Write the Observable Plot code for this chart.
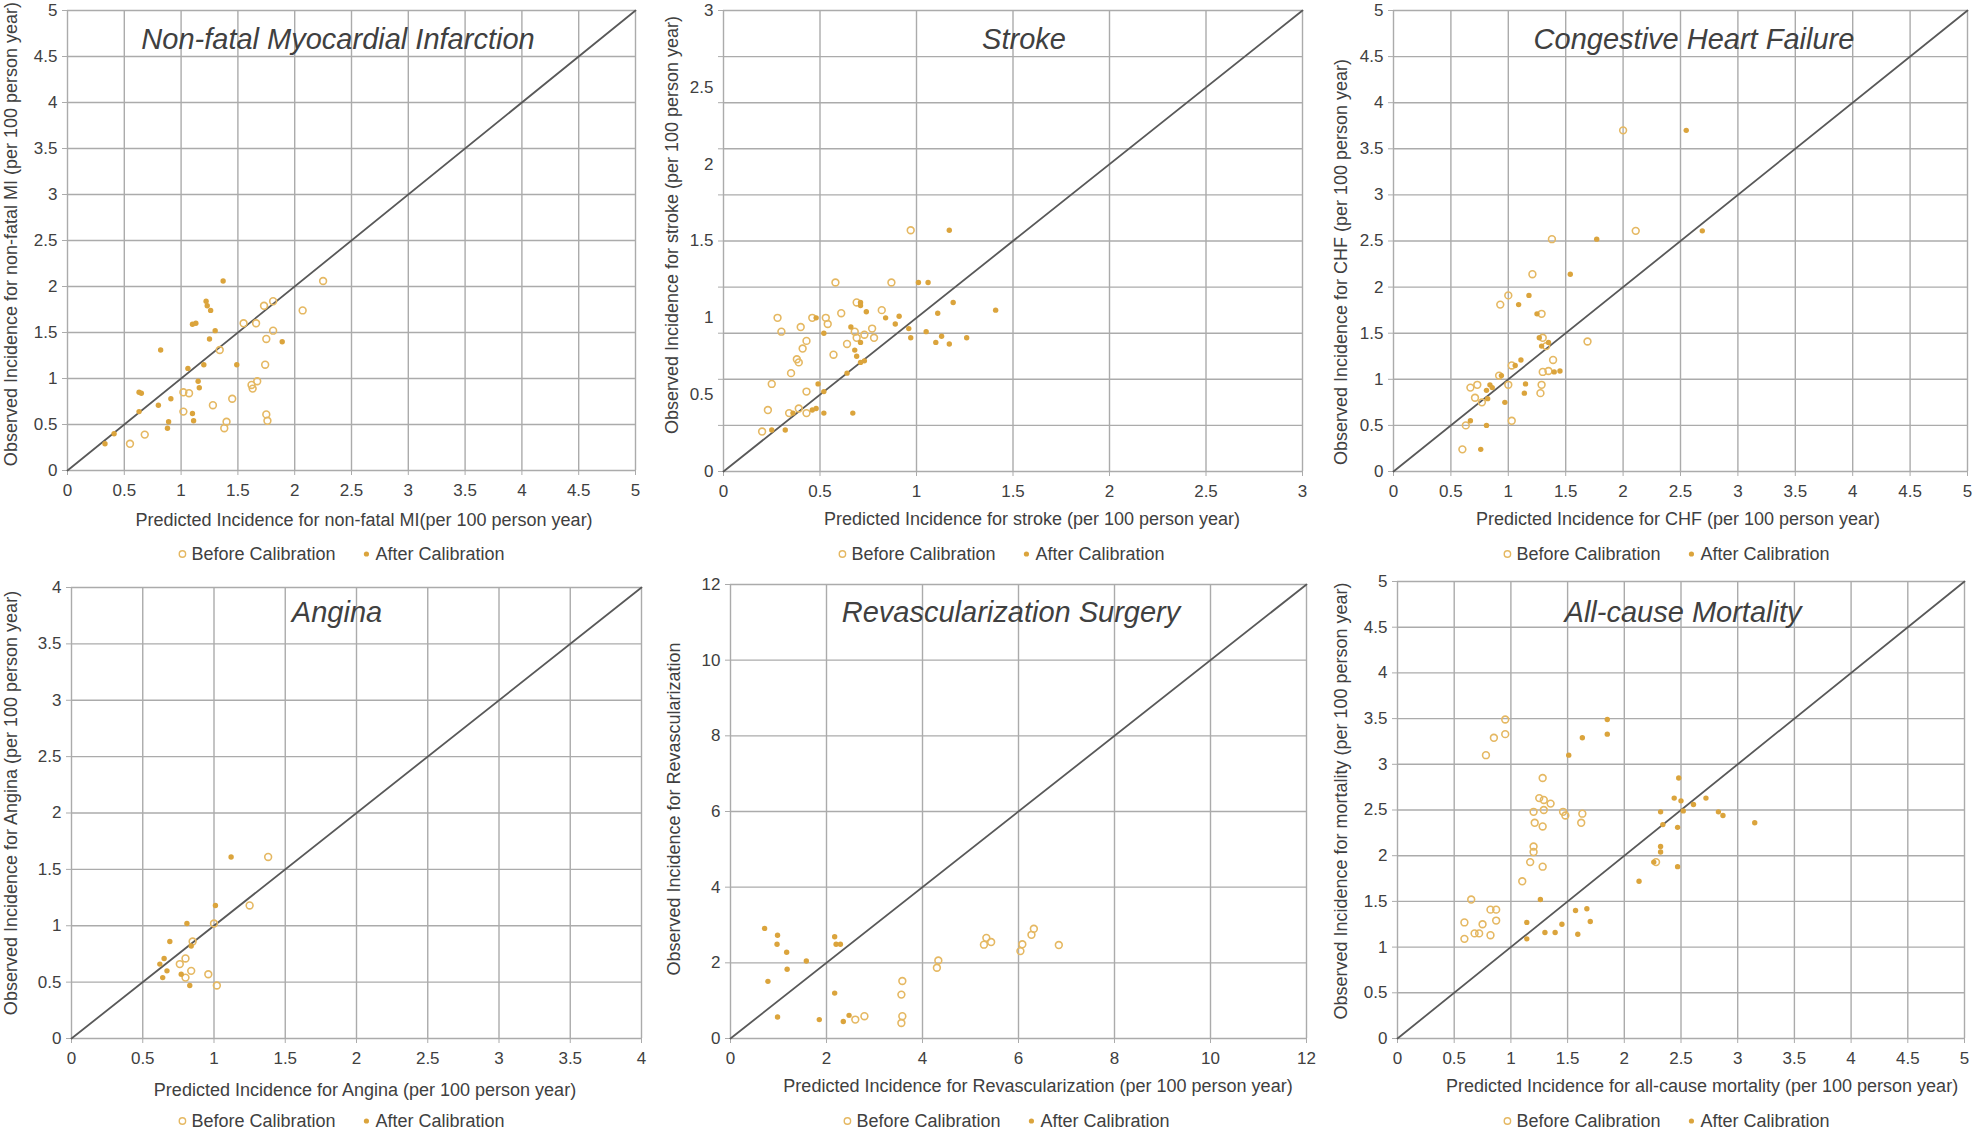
<!DOCTYPE html>
<html><head><meta charset="utf-8">
<script src="https://cdn.jsdelivr.net/npm/d3@7"></script>
<script src="https://cdn.jsdelivr.net/npm/@observablehq/plot@0.6"></script>
<style>
body{margin:0;background:#fff;}
#root{position:relative;width:1974px;height:1131px;overflow:hidden;font-family:"Liberation Sans",Arial,sans-serif;color:#404040;background:#fff;}
.abs{position:absolute;white-space:nowrap;line-height:1;}
.title{font-style:italic;font-size:29px;transform:translate(-50%,-50%);}
.xlab{font-size:18px;transform:translate(-50%,-50%);}
.ylab{font-size:18px;transform:translate(-50%,-50%) rotate(-90deg);}
.legend{font-size:18px;transform:translate(-50%,-50%);display:flex;align-items:center;}
.legend svg{margin-right:4px;}
.panel{position:absolute;}
</style></head><body><div id="root"></div>
<script>
// ---------- data (predicted, observed) ----------
const miBefore = [[2.25,2.06],[1.81,1.84],[1.73,1.79],[2.07,1.74],[1.55,1.60],[1.66,1.60],[1.81,1.52],[1.75,1.43],[1.34,1.31],[1.74,1.15],[1.67,0.97],[1.62,0.93],[1.63,0.89],[1.02,0.85],[1.07,0.84],[1.45,0.78],[1.28,0.71],[1.02,0.64],[1.75,0.61],[1.76,0.54],[1.40,0.53],[1.38,0.46],[0.68,0.39],[0.55,0.29]];
const miAfter = [[1.37,2.06],[1.22,1.84],[1.23,1.79],[1.26,1.74],[1.10,1.59],[1.13,1.60],[1.30,1.52],[1.25,1.43],[1.89,1.40],[0.82,1.31],[1.06,1.11],[1.20,1.15],[1.49,1.15],[1.15,0.97],[1.16,0.90],[0.63,0.85],[0.65,0.84],[0.91,0.78],[0.80,0.71],[0.63,0.64],[1.10,0.62],[1.11,0.54],[0.89,0.53],[0.88,0.46],[0.41,0.40],[0.33,0.29]];
const strokeBefore = [[0.97,1.57],[0.58,1.23],[0.87,1.23],[0.69,1.10],[0.82,1.05],[0.61,1.03],[0.28,1.00],[0.46,1.00],[0.53,1.00],[0.54,0.96],[0.40,0.94],[0.30,0.91],[0.68,0.91],[0.77,0.93],[0.73,0.89],[0.69,0.87],[0.78,0.87],[0.43,0.85],[0.64,0.83],[0.41,0.80],[0.57,0.76],[0.38,0.73],[0.39,0.71],[0.35,0.64],[0.25,0.57],[0.43,0.52],[0.23,0.40],[0.39,0.41],[0.34,0.38],[0.43,0.38],[0.20,0.26]];
const strokeAfter = [[1.17,1.57],[1.01,1.23],[1.06,1.23],[0.71,1.10],[0.71,1.08],[0.74,1.04],[1.19,1.10],[1.41,1.05],[1.11,1.03],[0.48,1.00],[0.84,1.00],[0.91,1.01],[0.89,0.96],[0.66,0.94],[0.96,0.93],[0.52,0.90],[1.05,0.91],[0.97,0.87],[1.13,0.88],[1.26,0.87],[0.71,0.84],[1.10,0.84],[1.17,0.83],[0.68,0.79],[0.69,0.75],[0.73,0.72],[0.71,0.71],[0.64,0.64],[0.49,0.57],[0.52,0.52],[0.36,0.38],[0.46,0.40],[0.48,0.41],[0.52,0.38],[0.67,0.38],[0.25,0.27],[0.32,0.27]];
const chfBefore = [[2.00,3.70],[2.11,2.61],[1.38,2.52],[1.21,2.14],[1.00,1.91],[0.93,1.81],[1.29,1.71],[1.69,1.41],[1.30,1.45],[1.33,1.36],[1.39,1.21],[1.03,1.15],[0.92,1.04],[1.30,1.08],[1.35,1.09],[1.00,0.94],[1.29,0.94],[0.73,0.94],[0.67,0.91],[0.71,0.80],[0.77,0.75],[1.28,0.85],[0.63,0.50],[1.03,0.55],[0.60,0.24]];
const chfAfter = [[2.55,3.70],[2.69,2.61],[1.77,2.52],[1.54,2.14],[1.18,1.91],[1.09,1.81],[1.25,1.71],[1.27,1.45],[1.35,1.40],[1.29,1.36],[1.11,1.21],[1.06,1.15],[0.94,1.04],[1.40,1.08],[1.45,1.09],[0.84,0.94],[0.86,0.91],[1.15,0.95],[0.81,0.88],[0.82,0.79],[1.14,0.85],[0.97,0.75],[0.67,0.55],[0.81,0.50],[0.76,0.24]];
const anginaBefore = [[1.38,1.61],[1.25,1.18],[1.00,1.02],[0.85,0.86],[0.80,0.71],[0.76,0.66],[0.84,0.60],[0.96,0.57],[0.80,0.54],[1.02,0.47]];
const anginaAfter = [[1.12,1.61],[1.01,1.18],[0.81,1.02],[0.84,0.82],[0.69,0.86],[0.65,0.71],[0.62,0.66],[0.67,0.60],[0.77,0.57],[0.64,0.54],[0.83,0.47]];
const revBefore = [[2.60,0.50],[2.79,0.59],[3.58,1.52],[3.56,1.16],[3.58,0.59],[3.56,0.41],[4.33,2.06],[4.30,1.87],[5.33,2.66],[5.28,2.48],[5.43,2.55],[6.08,2.49],[6.04,2.31],[6.32,2.90],[6.27,2.74],[6.84,2.47]];
const revAfter = [[0.71,2.91],[0.98,2.73],[0.97,2.49],[1.17,2.28],[1.58,2.05],[1.18,1.83],[0.78,1.51],[2.17,2.69],[2.20,2.49],[2.29,2.49],[2.17,1.20],[0.98,0.57],[1.85,0.50],[2.47,0.61],[2.35,0.45]];
const mortBefore = [[0.95,3.49],[0.85,3.29],[0.95,3.33],[0.78,3.10],[1.28,2.85],[1.25,2.63],[1.29,2.61],[1.35,2.57],[1.20,2.48],[1.29,2.50],[1.46,2.48],[1.48,2.44],[1.63,2.46],[1.62,2.36],[1.21,2.36],[1.28,2.32],[1.20,2.10],[1.20,2.04],[1.17,1.93],[1.28,1.88],[1.10,1.72],[2.28,1.93],[0.65,1.52],[0.82,1.41],[0.87,1.41],[0.87,1.29],[0.59,1.27],[0.75,1.25],[0.68,1.15],[0.72,1.15],[0.82,1.13],[0.59,1.09]];
const mortAfter = [[1.85,3.49],[1.85,3.33],[1.63,3.29],[1.51,3.10],[2.48,2.85],[2.44,2.63],[2.72,2.63],[2.50,2.60],[2.61,2.56],[2.52,2.49],[2.32,2.48],[2.83,2.48],[2.87,2.44],[3.15,2.36],[2.34,2.34],[2.47,2.31],[2.32,2.10],[2.32,2.04],[2.26,1.93],[2.47,1.88],[2.13,1.72],[1.26,1.52],[1.67,1.42],[1.57,1.40],[1.70,1.28],[1.14,1.27],[1.45,1.25],[1.30,1.16],[1.39,1.16],[1.59,1.14],[1.14,1.09]];

// ---------- tick labels ----------
const ticks5 = [0,0.5,1,1.5,2,2.5,3,3.5,4,4.5,5];
const ticks3 = [0,0.5,1,1.5,2,2.5,3];
const strokeGridY = [0,0.3,0.6,0.9,1.2,1.5,1.8,2.1,2.4,2.7,3];
const ticks4 = [0,0.5,1,1.5,2,2.5,3,3.5,4];
const ticks12 = [0,2,4,6,8,10,12];

const legendLabels = ["Before Calibration","After Calibration"];
const colBefore = "#E5B862", colAfter = "#DBA43C";
const gridCol = "#ABABAB", textCol = "#404040", diagCol = "#595959";

const panels = [
  {title:"Non-fatal Myocardial Infarction", before:miBefore, after:miAfter, max:5, xTicks:ticks5, yTicks:ticks5, yGrid:ticks5,
   xLabel:"Predicted Incidence for non-fatal MI(per 100 person year)", yLabel:"Observed Incidence for non-fatal MI (per 100 person year)",
   frame:[67,635,10,470], titlePos:[338,39], xLabelPos:[364,520], yLabelPos:[11,234], legendPos:[341,554]},
  {title:"Stroke", before:strokeBefore, after:strokeAfter, max:3, xTicks:ticks3, yTicks:ticks3, yGrid:strokeGridY,
   xLabel:"Predicted Incidence for stroke (per 100 person year)", yLabel:"Observed Incidence for stroke (per 100 person year)",
   frame:[723,1302,10,471], titlePos:[1024,39], xLabelPos:[1032,519], yLabelPos:[672,225], legendPos:[1001,554]},
  {title:"Congestive Heart Failure", before:chfBefore, after:chfAfter, max:5, xTicks:ticks5, yTicks:ticks5, yGrid:ticks5,
   xLabel:"Predicted Incidence for CHF (per 100 person year)", yLabel:"Observed Incidence for CHF (per 100 person year)",
   frame:[1393,1967,10,471], titlePos:[1694,39], xLabelPos:[1678,519], yLabelPos:[1341,262], legendPos:[1666,554]},
  {title:"Angina", before:anginaBefore, after:anginaAfter, max:4, xTicks:ticks4, yTicks:ticks4, yGrid:ticks4,
   xLabel:"Predicted Incidence for Angina (per 100 person year)", yLabel:"Observed Incidence for Angina (per 100 person year)",
   frame:[71,641,587,1038], titlePos:[337,612], xLabelPos:[365,1090], yLabelPos:[11,803], legendPos:[341,1121]},
  {title:"Revascularization Surgery", before:revBefore, after:revAfter, max:12, xTicks:ticks12, yTicks:ticks12, yGrid:ticks12,
   xLabel:"Predicted Incidence for Revascularization (per 100 person year)", yLabel:"Observed Incidence for Revascularization",
   frame:[730,1306,584,1038], titlePos:[1011,612], xLabelPos:[1038,1086], yLabelPos:[674,809], legendPos:[1006,1121]},
  {title:"All-cause Mortality", before:mortBefore, after:mortAfter, max:5, xTicks:ticks5, yTicks:ticks5, yGrid:ticks5,
   xLabel:"Predicted Incidence for all-cause mortality (per 100 person year)", yLabel:"Observed Incidence for mortality (per 100 person year)",
   frame:[1397,1964,581,1038], titlePos:[1683,612], xLabelPos:[1702,1086], yLabelPos:[1341,801], legendPos:[1666,1121]}
];

const root = document.getElementById("root");
function addDiv(cls, text, pos) {
  const d = document.createElement("div");
  d.className = "abs " + cls;
  d.textContent = text;
  d.style.left = pos[0] + "px";
  d.style.top = pos[1] + "px";
  root.appendChild(d);
  return d;
}
function swatch(kind) {
  const ns = "http://www.w3.org/2000/svg";
  const s = document.createElementNS(ns, "svg");
  s.setAttribute("width", 10); s.setAttribute("height", 10);
  const c = document.createElementNS(ns, "circle");
  c.setAttribute("cx", 5); c.setAttribute("cy", 5);
  if (kind === 0) { c.setAttribute("r", 3.2); c.setAttribute("fill", "none"); c.setAttribute("stroke", colBefore); c.setAttribute("stroke-width", 1.4); }
  else { c.setAttribute("r", 2.6); c.setAttribute("fill", colAfter); }
  s.appendChild(c);
  return s;
}

const mL = 60, mR = 20, mT = 10, mB = 40;
for (const p of panels) {
  const [x0, x1, y0, y1] = p.frame;
  const diag = [0, p.max];
  const chart = Plot.plot({
    width: (x1 - x0) + mL + mR, height: (y1 - y0) + mT + mB,
    marginLeft: mL, marginRight: mR, marginTop: mT, marginBottom: mB,
    x: {domain: [0, p.max]}, y: {domain: [0, p.max]},
    style: {fontFamily: '"Liberation Sans", Arial, sans-serif', fontSize: "17px", color: textCol, background: "transparent", overflow: "visible"},
    marks: [
      Plot.gridX(p.xTicks, {stroke: gridCol, strokeOpacity: 1, strokeWidth: 1.4}),
      Plot.gridY(p.yGrid, {stroke: gridCol, strokeOpacity: 1, strokeWidth: 1.4}),
      Plot.axisX(p.xTicks, {tickSize: 5, tickPadding: 8, stroke: gridCol, fill: textCol, tickFormat: d => String(d), label: null}),
      Plot.axisY(p.yTicks, {tickSize: 0, tickPadding: 10, fill: textCol, tickFormat: d => String(d), label: null}),
      Plot.axisY(p.yGrid, {tickSize: 5, stroke: gridCol, fill: "none", label: null}),
      Plot.line(diag, {x: d => d, y: d => d, stroke: diagCol, strokeWidth: 1.8}),
      Plot.dot(p.before, {x: d => d[0], y: d => d[1], r: 3.4, stroke: colBefore, strokeWidth: 1.6, fill: "none"}),
      Plot.dot(p.after, {x: d => d[0], y: d => d[1], r: 2.7, fill: colAfter, stroke: "none"})
    ]
  });
  chart.classList.add("panel");
  chart.style.left = (x0 - mL) + "px";
  chart.style.top = (y0 - mT) + "px";
  root.appendChild(chart);

  addDiv("title", p.title, p.titlePos);
  addDiv("xlab", p.xLabel, p.xLabelPos);
  addDiv("ylab", p.yLabel, p.yLabelPos);
  const lg = document.createElement("div");
  lg.className = "abs legend";
  lg.style.left = p.legendPos[0] + "px";
  lg.style.top = p.legendPos[1] + "px";
  legendLabels.forEach((t, i) => {
    lg.appendChild(swatch(i));
    const sp = document.createElement("span");
    sp.textContent = t;
    sp.style.marginRight = i === 0 ? "26px" : "0";
    lg.appendChild(sp);
  });
  root.appendChild(lg);
}
</script></body></html>
